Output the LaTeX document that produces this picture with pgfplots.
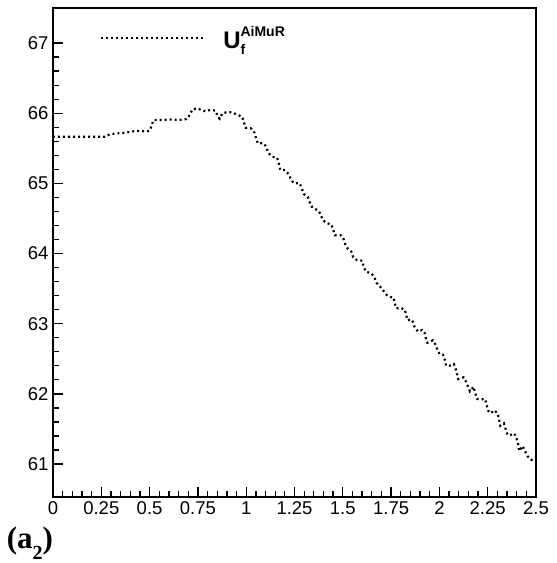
\documentclass[border=0pt]{standalone}
\usepackage{pgfplots}
\pgfplotsset{compat=1.18}
\usepackage{fontspec}
\setmainfont{Liberation Sans}
\newfontfamily\timesfont{Liberation Serif}
\begin{document}
\begin{tikzpicture}
\begin{axis}[
  scale only axis,
  width=483pt, height=489pt,
  xmin=0, xmax=2.5, ymin=60.53, ymax=67.5,
  xtick={0,0.25,...,2.5},
  xticklabels={0,0.25,0.5,0.75,1,1.25,1.5,1.75,2,2.25,2.5},
  ytick={61,62,...,67},
  minor x tick num=4,
  minor y tick num=4,
  tick align=inside,
  xtick pos=bottom, ytick pos=left,
  major tick length=10pt,
  minor tick length=5.5pt,
  every tick/.style={black, line width=1.3pt},
  axis line style={line width=2pt},
  /pgf/number format/assume math mode=true,
  tick label style={font=\fontsize{18.5}{20}\selectfont},
  xticklabel style={yshift=-1pt},
  yticklabel style={xshift=-1pt},
  legend style={at={(rel axis cs:0.097,0.938)}, anchor=west, draw=none, fill=none, inner sep=0pt, legend cell align=left},
  legend image code/.code={\draw[#1] (0pt,0pt) -- (105pt,0pt);},
]
\addplot[black, line width=2.2pt, dash pattern=on 2pt off 3pt] coordinates {
(0,65.665) (0.268,65.665) (0.294,65.70) (0.320,65.71) (0.372,65.72) (0.432,65.75)
(0.484,65.74) (0.500,65.75) (0.510,65.82) (0.519,65.90) (0.60,65.91) (0.662,65.907)
(0.691,65.917) (0.709,65.978) (0.721,66.055) (0.748,66.069) (0.769,66.045) (0.790,66.027)
(0.816,66.049) (0.842,66.035) (0.852,65.955) (0.863,65.921) (0.876,65.998) (0.904,66.017)
(0.928,66.012) (0.953,65.978) (0.980,65.950) (0.987,65.874) (0.997,65.793) (1.025,65.784)
(1.043,65.722) (1.051,65.646) (1.060,65.571) (1.091,65.571) (1.105,65.514) (1.115,65.432)
(1.136,65.380) (1.160,65.365) (1.169,65.286) (1.176,65.194) (1.202,65.190) (1.219,65.133)
(1.231,65.062) (1.246,65.001) (1.276,65.001) (1.288,64.929) (1.298,64.848) (1.319,64.805)
(1.329,64.730) (1.343,64.653) (1.369,64.620) (1.385,64.567) (1.394,64.487) (1.414,64.435)
(1.440,64.416) (1.451,64.335) (1.459,64.260) (1.489,64.260) (1.504,64.207) (1.513,64.131)
(1.526,64.069) (1.544,64.026) (1.554,63.946) (1.573,63.907) (1.601,63.898) (1.608,63.812)
(1.620,63.741) (1.648,63.718) (1.663,63.665) (1.674,63.584) (1.692,63.533) (1.710,63.470)
(1.727,63.409) (1.746,63.380) (1.762,63.376) (1.769,63.295) (1.777,63.219) (1.803,63.223)
(1.821,63.199) (1.827,63.134) (1.836,63.048) (1.852,63.062) (1.864,63.024) (1.872,62.948)
(1.890,62.886) (1.910,62.910) (1.923,62.871) (1.929,62.800) (1.938,62.729) (1.966,62.763)
(1.980,62.701) (1.990,62.625) (2.002,62.564) (2.019,62.558) (2.028,62.482) (2.035,62.401)
(2.052,62.401) (2.075,62.425) (2.084,62.354) (2.092,62.273) (2.097,62.212) (2.125,62.236)
(2.135,62.187) (2.147,62.112) (2.158,62.036) (2.177,62.102) (2.185,62.012) (2.196,61.927)
(2.213,61.922) (2.236,61.927) (2.244,61.846) (2.253,61.760) (2.265,61.723) (2.284,61.766)
(2.301,61.723) (2.308,61.642) (2.315,61.546) (2.334,61.580) (2.344,61.489) (2.353,61.414)
(2.367,61.414) (2.387,61.438) (2.400,61.357) (2.408,61.276) (2.413,61.186) (2.431,61.257)
(2.443,61.186) (2.455,61.115) (2.474,61.062) (2.490,61.05)
};
\addlegendentry{\hspace{14pt}\bfseries\fontsize{24}{24}\selectfont U\fontsize{14}{14}\selectfont\rlap{\raisebox{12pt}{AiMuR}}\raisebox{-6pt}{f}}
\end{axis}
\node[anchor=center, inner sep=0pt] at ([shift={(-23pt,-46pt)}]current axis.south west)
  {\timesfont\bfseries\fontsize{31}{33}\selectfont (a\raisebox{-11pt}{\fontsize{20}{20}\selectfont 2})};
\pgfresetboundingbox
\path[use as bounding box] ([shift={(-53pt,-66pt)}]current axis.south west) rectangle ([shift={(20pt,8pt)}]current axis.north east);
\end{tikzpicture}
\end{document}
